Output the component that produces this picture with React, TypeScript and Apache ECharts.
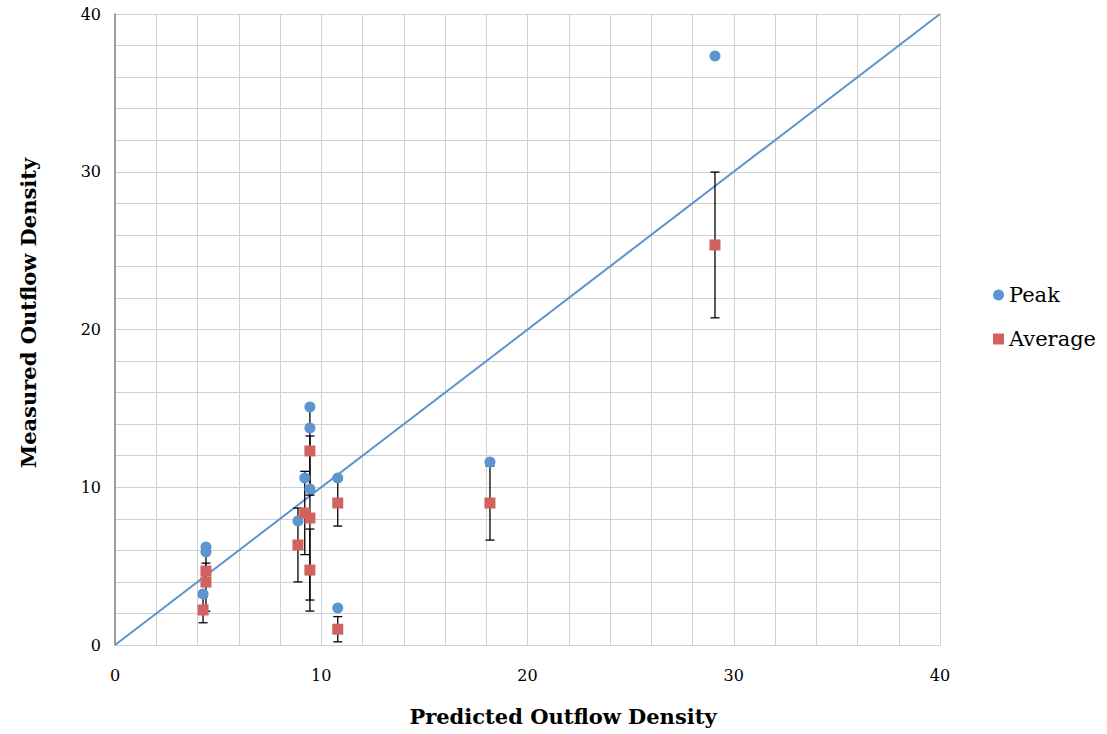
import React, { useEffect, useRef } from "react";
import * as echarts from "echarts";

// Predicted vs. measured outflow density
const peakPoints: [number, number][] = [
  [4.41, 6.21], [4.41, 5.9], [4.27, 3.23],
  [9.45, 15.09], [9.45, 13.76], [9.2, 10.59], [9.45, 9.89], [8.87, 7.86],
  [10.8, 10.59], [10.8, 2.35], [18.18, 11.6], [29.09, 37.34],
];
const averagePoints: [number, number][] = [
  [4.41, 4.69], [4.41, 3.99], [4.27, 2.22],
  [9.45, 12.3], [9.2, 8.37], [9.45, 8.05], [8.87, 6.34], [9.45, 4.75],
  [10.8, 9.0], [10.8, 1.0], [18.18, 9.0], [29.09, 25.36],
];
// ± spread of each average value
const averageError: number[] = [0.5, 1.85, 0.81, 2.8, 2.64, 5.2, 2.34, 2.6, 1.46, 0.8, 2.35, 4.62];
const identityLine: [number, number][] = [[0, 0], [40, 40]];

const xTitle = "Predicted Outflow Density";
const yTitle = "Measured Outflow Density";

const FONT = "DejaVu Serif";

export default function App() {
  const ref = useRef<HTMLDivElement>(null);
  useEffect(() => {
    if (!ref.current) return;
    const chart = echarts.init(ref.current, null, { renderer: "svg" });
    const errData = averagePoints.map((p, i) => [p[0], p[1] - averageError[i], p[1] + averageError[i]]);
    const labelFmt = (v: number) => (v % 10 === 0 ? String(v) : "");
    chart.setOption({
      animation: false,
      backgroundColor: "#ffffff",
      grid: { left: 115, right: 167, top: 14, bottom: 89 },
      graphic: [
        {
          type: "text",
          x: 563,
          y: 716,
          style: {
            text: xTitle,
            fontFamily: FONT,
            fontSize: 21,
            fontWeight: "bold",
            fill: "#000",
            align: "center",
            verticalAlign: "middle",
          },
        },
        {
          type: "text",
          x: 28,
          y: 313,
          rotation: Math.PI / 2,
          style: {
            text: yTitle,
            fontFamily: FONT,
            fontSize: 21,
            fontWeight: "bold",
            fill: "#000",
            align: "center",
            verticalAlign: "middle",
          },
        },
      ],
      legend: {
        data: [
          { name: "Peak", icon: "circle" },
          { name: "Average", icon: "rect" },
        ],
        orient: "vertical",
        left: 988,
        top: 278,
        itemWidth: 11,
        itemHeight: 11,
        itemGap: 20,
        textStyle: { fontFamily: FONT, fontSize: 21, color: "#000", lineHeight: 24 },
      },
      xAxis: {
        type: "value",
        min: 0,
        max: 40,
        interval: 2,
        axisLine: { show: true, lineStyle: { color: "#d0d0d0", width: 1 } },
        axisTick: { show: false },
        axisLabel: { formatter: labelFmt, fontFamily: FONT, fontSize: 16, color: "#000", margin: 22 },
        splitLine: { show: true, lineStyle: { color: "#d0d0d0", width: 1 } },
      },
      yAxis: {
        type: "value",
        min: 0,
        max: 40,
        interval: 2,
        axisLine: { show: true, lineStyle: { color: "#868686", width: 1.5 } },
        axisTick: { show: false },
        axisLabel: { formatter: labelFmt, fontFamily: FONT, fontSize: 16, color: "#000", margin: 14 },
        splitLine: { show: true, lineStyle: { color: "#d0d0d0", width: 1 } },
      },
      series: [
        {
          name: "Identity",
          type: "line",
          data: identityLine,
          symbol: "none",
          lineStyle: { color: "#5b93cf", width: 2 },
          z: 2,
        },
        {
          name: "Error",
          type: "custom",
          data: errData,
          z: 3,
          renderItem: (params: any, api: any) => {
            const x = api.value(0);
            const top = api.coord([x, api.value(2)]);
            const bot = api.coord([x, api.value(1)]);
            const cap = 4.5;
            const style = { stroke: "#000", lineWidth: 1.3 };
            return {
              type: "group",
              children: [
                { type: "line", shape: { x1: top[0], y1: top[1], x2: bot[0], y2: bot[1] }, style },
                { type: "line", shape: { x1: top[0] - cap, y1: top[1], x2: top[0] + cap, y2: top[1] }, style },
                { type: "line", shape: { x1: bot[0] - cap, y1: bot[1], x2: bot[0] + cap, y2: bot[1] }, style },
              ],
            };
          },
        },
        {
          name: "Peak",
          type: "scatter",
          data: peakPoints,
          symbol: "circle",
          symbolSize: 11,
          itemStyle: { color: "#5b96d0", opacity: 1 },
          z: 4,
        },
        {
          name: "Average",
          type: "scatter",
          data: averagePoints,
          symbol: "rect",
          symbolSize: 11,
          itemStyle: { color: "#d2625d", opacity: 1 },
          z: 5,
        },
      ],
    });
    return () => chart.dispose();
  }, []);
  return <div ref={ref} style={{ width: 1107, height: 734, position: "absolute", left: 0, top: 0 }} />;
}
